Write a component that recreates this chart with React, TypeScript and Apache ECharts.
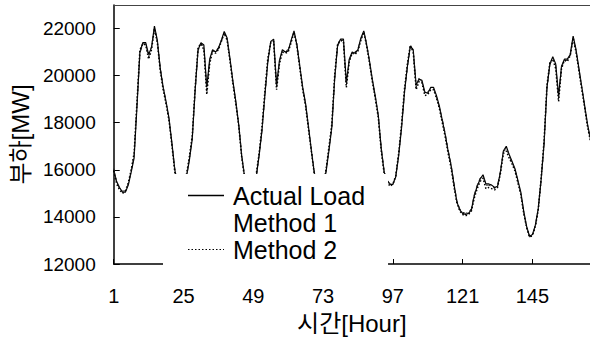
import React, { useEffect, useRef } from "react";
import * as echarts from "echarts";

// Hours 1..165 (one value per hour)
const actualLoad: number[] = [
  16000,15500,15250,15050,15050,15350,15900,16500,18700,21000,21400,21400,20900,21200,22100,21500,20300,19500,18900,18200,17150,16000,15350,15050,
  15150,15700,16400,17300,19400,21100,21400,21300,19500,20700,21100,21000,21150,21500,21880,21600,20700,19750,18900,17900,16600,15700,15200,15000,
  15100,15700,16600,17700,19200,20600,21450,21550,19600,20650,21100,21000,21050,21500,21900,21300,20400,19500,18800,17800,16800,15850,15300,15050,
  15300,15900,16800,17800,19900,21300,21550,21550,19700,20700,21000,20950,21100,21600,21900,21300,20600,19800,19100,18300,16900,15900,15550,15380,
  15380,15700,16600,17800,19300,20400,21250,21100,19600,19850,19800,19300,19250,19500,19500,19150,18700,18100,17500,16800,16200,15400,14650,14300,
  14150,14100,14150,14300,14900,15300,15600,15790,15400,15400,15350,15250,15300,15900,16800,17000,16650,16350,16050,15550,15050,14250,13600,13180,
  13250,13650,14350,15600,17100,19500,20500,20800,20500,19150,20400,20700,20700,20900,21680,21100,20300,19500,18700,17900,17300,
];

const method1: number[] = [
  16050,15450,15200,15100,15100,15400,15950,16600,18800,20950,21350,21350,20800,21250,22000,21450,20350,19550,18850,18150,17100,16050,15400,15100,
  15100,15650,16450,17350,19300,21050,21350,21250,19350,20650,21050,21050,21200,21450,21800,21550,20650,19700,18850,17950,16650,15750,15250,15050,
  15150,15650,16650,17650,19150,20550,21400,21500,19500,20600,21050,21050,21100,21450,21850,21350,20450,19450,18750,17850,16850,15900,15350,15100,
  15250,15950,16850,17750,19850,21250,21500,21500,19600,20650,20950,21000,21150,21550,21850,21350,20550,19750,19050,18250,16950,15950,15600,15400,
  15350,15750,16650,17850,19250,20350,21200,21050,19500,19900,19750,19250,19300,19450,19450,19100,18650,18150,17550,16850,16250,15450,14700,14350,
  14200,14150,14200,14350,14950,15350,15650,15750,15350,15350,15300,15200,15350,15950,16750,16950,16600,16300,16000,15500,15000,14200,13550,13150,
  13200,13600,14300,15550,17050,19450,20450,20750,20450,19050,20350,20650,20650,20850,21600,21050,20250,19450,18650,17850,17250,
];

const method2: number[] = [
  15950,15400,15150,15000,15100,15450,16000,16700,18900,21100,21350,21300,20700,21100,22000,21400,20200,19400,18800,18100,17050,15900,15300,15000,
  15200,15800,16550,17450,19500,21200,21350,21100,19200,20500,21050,20950,21100,21450,21800,21500,20600,19650,18800,17850,16550,15650,15150,14950,
  15150,15800,16700,17850,19350,20750,21400,21450,19400,20500,21000,20950,21000,21400,21850,21250,20300,19400,18700,17700,16750,15800,15250,15000,
  15350,16000,16950,17950,20050,21350,21500,21450,19500,20600,20950,20900,21050,21500,21850,21250,20500,19700,19000,18200,16800,15850,15500,15300,
  15400,15750,16700,17950,19450,20500,21300,21000,19400,19750,19700,19150,19200,19400,19400,19050,18600,18000,17400,16700,16100,15300,14600,14250,
  14100,14050,14100,14250,14800,15200,15500,15650,15200,15250,15200,15150,15250,15850,16700,16800,16500,16250,15950,15450,14950,14150,13550,13150,
  13200,13600,14300,15650,17250,19600,20550,20700,20300,18900,20300,20650,20600,20850,21600,21000,20200,19400,18600,17800,17200,
];

const xTickHours: number[] = [1, 25, 49, 73, 97, 121, 145];
const seriesNames: string[] = ["Actual Load", "Method 1", "Method 2"];

const toPairs = (vals: number[]) => vals.map((v, i) => [i + 1, v]);

const LATIN = "'Liberation Sans', Arial, Helvetica, sans-serif";
const KOREAN = "'Liberation Sans', 'Noto Sans CJK KR', sans-serif";

export default function App() {
  const ref = useRef<HTMLDivElement>(null);
  useEffect(() => {
    if (!ref.current) return;
    const chart = echarts.init(ref.current, undefined, { renderer: "svg" });
    chart.setOption({
      animation: false,
      backgroundColor: "#fff",
      grid: { left: 111, top: 5, right: 0, bottom: 80, containLabel: false },
      legend: {
        orient: "vertical",
        left: 163,
        top: 174,
        padding: [9, 23, 7, 24],
        backgroundColor: "#fff",
        itemWidth: 36,
        itemHeight: 14,
        itemGap: 2,
        z: 10,
        itemStyle: { opacity: 0 },
        textStyle: { fontSize: 25, color: "#000", fontFamily: LATIN, padding: [0, 0, 0, 4] },
        data: [
          { name: seriesNames[0], lineStyle: { width: 1.5 } },
          { name: seriesNames[1], lineStyle: { opacity: 0 }, itemStyle: { opacity: 0 } },
          { name: seriesNames[2], lineStyle: { width: 1 } },
        ],
      },
      xAxis: [
        {
          type: "value",
          min: 1,
          max: 164.8,
          name: "시간[Hour]",
          nameLocation: "middle",
          nameGap: 47,
          nameTextStyle: { fontSize: 24, color: "#000", fontFamily: KOREAN },
          axisLine: { show: true, onZero: false, lineStyle: { color: "#000", width: 1.5 } },
          axisTick: { show: true, inside: true, length: 5, customValues: xTickHours, lineStyle: { color: "#000" } },
          axisLabel: { customValues: xTickHours, fontSize: 20, color: "#000", fontFamily: LATIN, margin: 22 },
          splitLine: { show: false },
        },
        {
          type: "value",
          position: "top",
          min: 1,
          max: 164.8,
          axisLine: { show: true, onZero: false, lineStyle: { color: "#444", width: 1 } },
          axisTick: { show: false },
          axisLabel: { show: false },
          splitLine: { show: false },
        },
      ],
      yAxis: {
        type: "value",
        min: 12000,
        max: 23000,
        interval: 2000,
        name: "부하[MW]",
        nameLocation: "middle",
        nameGap: 79,
        nameTextStyle: { fontSize: 24, color: "#000", fontFamily: KOREAN },
        axisLine: { show: true, lineStyle: { color: "#000", width: 1.5 } },
        axisTick: { show: true, inside: true, length: 6, lineStyle: { color: "#000" } },
        axisLabel: {
          showMaxLabel: false,
          fontSize: 19,
          color: "#000",
          fontFamily: LATIN,
          margin: 18,
          formatter: (v: number) => (v > 22000 ? "" : String(v)),
        },
        splitLine: { show: false },
      },
      series: [
        {
          name: seriesNames[0],
          type: "line",
          data: toPairs(actualLoad),
          symbol: "none",
          lineStyle: { color: "#000", width: 1.2, type: "solid" },
          itemStyle: { color: "#000" },
          z: 2,
        },
        {
          name: seriesNames[1],
          type: "line",
          data: toPairs(method1),
          symbol: "none",
          lineStyle: { color: "#222", width: 1, type: [5, 3] },
          itemStyle: { color: "#222" },
          z: 3,
        },
        {
          name: seriesNames[2],
          type: "line",
          data: toPairs(method2),
          symbol: "none",
          lineStyle: { color: "#000", width: 1.5, type: [1.5, 2] },
          itemStyle: { color: "#000" },
          z: 4,
        },
      ],
    });
    return () => chart.dispose();
  }, []);
  return (
    <div
      ref={ref}
      style={{ position: "absolute", left: 0, top: 0, width: 590, height: 344, background: "#fff" }}
    />
  );
}
